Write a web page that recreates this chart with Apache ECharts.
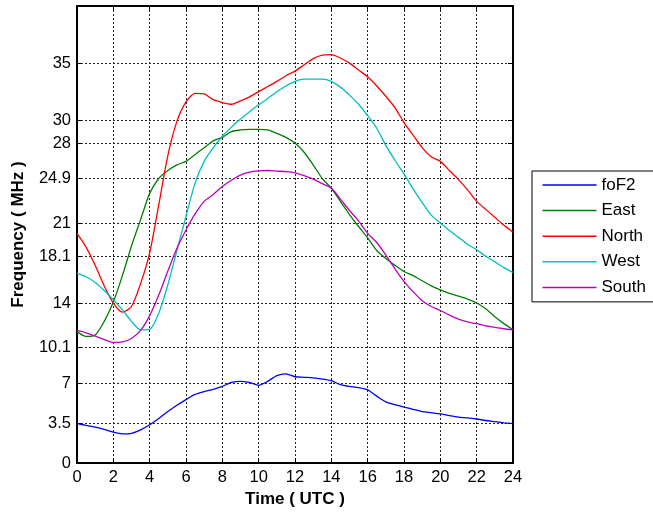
<!DOCTYPE html>
<html>
<head>
<meta charset="utf-8">
<script src="https://cdn.jsdelivr.net/npm/echarts@6/dist/echarts.min.js"></script>
<style>
html,body{margin:0;padding:0;background:#fff;}
#chart{width:653px;height:515px;}
</style>
</head>
<body>
<div id="chart"></div>
<script>
const hours = [0,0.5,1,1.5,2,2.5,3,3.5,4,4.5,5,5.5,6,6.5,7,7.5,8,8.5,9,9.5,10,10.5,11,11.5,12,12.5,13,13.5,14,14.5,15,15.5,16,16.5,17,17.5,18,18.5,19,19.5,20,20.5,21,21.5,22,22.5,23,23.5,24];
const xTicks = [0,2,4,6,8,10,12,14,16,18,20,22,24];
const yTicks = [0,3.5,7,10.1,14,18.1,21,24.9,28,30,35];
const seriesNames = ['foF2','East','North','West','South'];

const foF2 = [3.45,3.3,3.15,2.95,2.7,2.55,2.6,2.9,3.35,3.9,4.5,5.05,5.55,6.0,6.25,6.45,6.7,7.05,7.15,7.05,6.8,7.15,7.65,7.8,7.55,7.5,7.45,7.35,7.2,6.85,6.7,6.6,6.4,5.85,5.35,5.1,4.9,4.7,4.5,4.4,4.3,4.15,4.02,3.95,3.85,3.72,3.62,3.52,3.44];
const east = [11.5,11.08,11.2,12.4,14.1,16.4,19.0,21.3,23.6,24.9,25.6,26.1,26.4,27.0,27.6,28.2,28.5,29.0,29.15,29.2,29.2,29.15,28.85,28.5,28.0,27.2,26.1,24.9,24.05,22.9,21.75,20.7,19.7,18.6,17.9,17.3,16.76,16.4,15.95,15.5,15.16,14.85,14.6,14.35,14.0,13.5,12.8,12.2,11.66];
const north = [20.1,18.9,17.3,15.5,14.0,13.2,13.7,15.7,18.4,22.6,26.9,29.9,31.6,32.35,32.3,31.8,31.55,31.4,31.7,32.05,32.5,32.95,33.4,33.9,34.3,34.85,35.4,35.7,35.75,35.45,35.0,34.4,33.8,33.0,32.1,31.1,29.8,28.7,27.6,26.8,26.4,25.6,24.8,23.9,22.9,22.2,21.5,20.8,20.2];
const west = [16.6,16.3,15.8,15.1,14.3,13.4,12.4,11.66,11.7,13.1,15.6,18.6,21.6,24.5,26.4,27.6,28.6,29.4,30.1,30.75,31.35,31.9,32.5,33.0,33.4,33.6,33.6,33.6,33.4,32.9,32.2,31.4,30.4,29.3,27.8,26.5,25.3,24.0,22.8,21.7,21.0,20.35,19.75,19.15,18.66,18.1,17.6,17.1,16.68];
const south = [11.6,11.4,11.1,10.8,10.55,10.6,10.9,11.6,12.9,14.7,16.8,18.8,20.4,21.8,22.9,23.5,24.2,24.75,25.2,25.45,25.57,25.6,25.55,25.5,25.4,25.15,24.85,24.45,24.06,23.1,22.1,21.2,20.1,19.3,18.2,17.0,15.9,15.0,14.2,13.7,13.35,12.95,12.6,12.35,12.19,12.0,11.88,11.75,11.66];

const colors = ['#0000ff','#008000','#ff0000','#00bfbf','#bf00bf'];
const values = [foF2, east, north, west, south];

const FONT = 'Liberation Sans, Arial, sans-serif';
const chart = echarts.init(document.getElementById('chart'), null, {renderer:'canvas'});

const axisLineStyle = {show:true, onZero:false, lineStyle:{color:'#000', width:2}};
const gridLine = {show:true, lineStyle:{color:'#222', width:1, type:[2,2]}};
const tickStyle = {color:'#000', width:1};

const option = {
  animation:false,
  backgroundColor:'#fff',
  grid:{left:77, right:140, top:6, bottom:52, containLabel:false},
  legend:{
    orient:'vertical', left:532, top:171,
    data:seriesNames,
    icon:'rect', itemWidth:54, itemHeight:1.5, itemGap:8.6,
    padding:[5.5,8,6,10.5],
    borderColor:'#000', borderWidth:1, backgroundColor:'#fff',
    textStyle:{fontFamily:FONT, fontSize:17, color:'#000', lineHeight:17}
  },
  xAxis:[
    {type:'value', min:0, max:24, interval:2, position:'bottom',
     axisLine:axisLineStyle,
     axisTick:{show:true, inside:true, length:5, lineStyle:tickStyle},
     axisLabel:{show:true, margin:6, fontFamily:FONT, fontSize:16.5, color:'#000',
       customValues:xTicks},
     splitLine:gridLine,
     name:'Time ( UTC )', nameLocation:'middle', nameGap:28,
     nameTextStyle:{fontFamily:FONT, fontSize:17, fontWeight:'bold', color:'#000'}},
    {type:'value', min:0, max:24, interval:2, position:'top',
     axisLine:axisLineStyle,
     axisTick:{show:true, inside:true, length:5, lineStyle:tickStyle},
     axisLabel:{show:false}, splitLine:{show:false}}
  ],
  yAxis:[
    {type:'value', min:0, max:40, position:'left',
     axisLine:axisLineStyle,
     axisTick:{show:true, inside:true, length:5, lineStyle:tickStyle, customValues:yTicks},
     axisLabel:{show:true, margin:6, fontFamily:FONT, fontSize:16.5, color:'#000', customValues:yTicks},
     splitLine:gridLine,
     name:'Frequency ( MHz )', nameLocation:'middle', nameGap:50,
     nameTextStyle:{fontFamily:FONT, fontSize:17, fontWeight:'bold', color:'#000'}},
    {type:'value', min:0, max:40, position:'right',
     axisLine:axisLineStyle,
     axisTick:{show:true, inside:true, length:5, lineStyle:tickStyle, customValues:yTicks},
     axisLabel:{show:false, customValues:yTicks}, splitLine:{show:false}}
  ],
  series: seriesNames.map((n,i)=>({
    name:n, type:'line', xAxisIndex:0, yAxisIndex:0,
    data: hours.map((h,j)=>[h, values[i][j]]),
    symbol:'none', smooth:0.25,
    lineStyle:{color:colors[i], width:1.3},
    itemStyle:{color:colors[i]},
    clip:true
  }))
};
chart.setOption(option);
</script>
</body>
</html>
